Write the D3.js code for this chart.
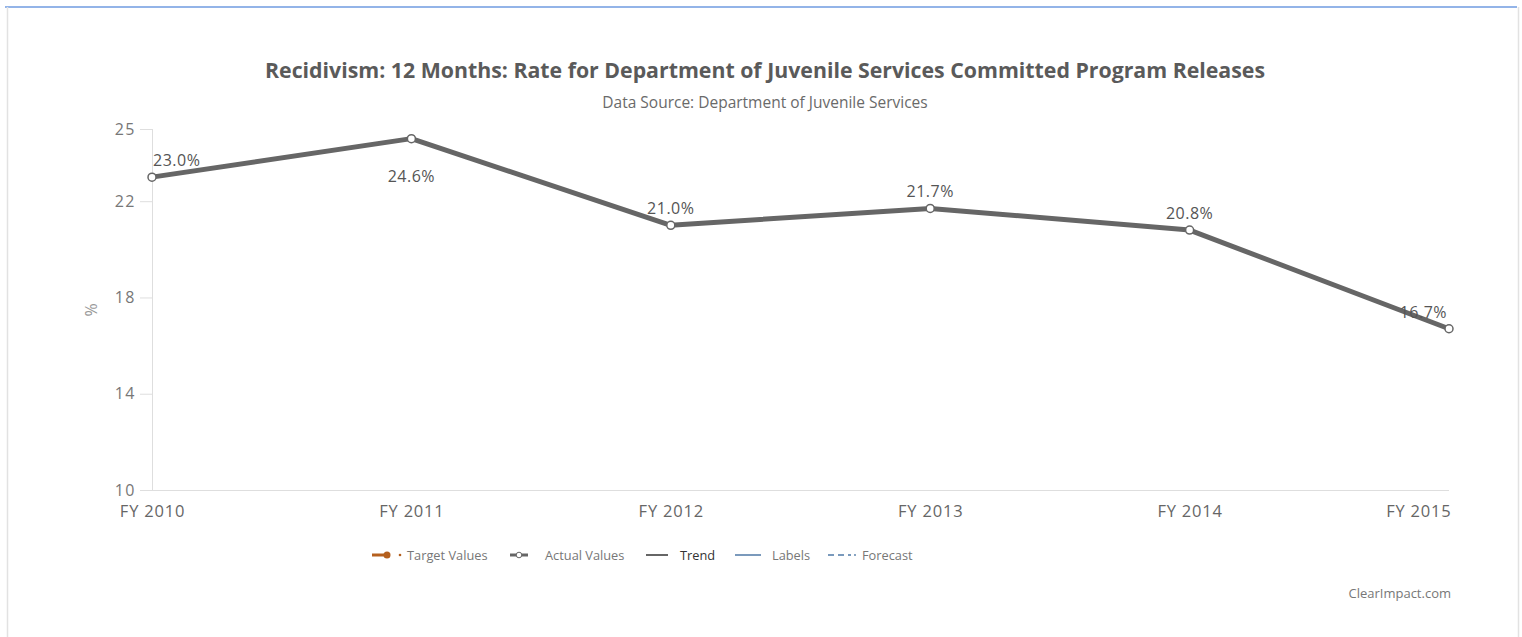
<!DOCTYPE html>
<html>
<head>
<meta charset="utf-8">
<script src="https://d3js.org/d3.v7.min.js"></script>
<style>
  body { margin: 0; background: #fff; }
  svg text { font-family: "Open Sans", "Noto Sans", sans-serif; }
</style>
</head>
<body>
<script>
    // Chart data
    const years = ["FY 2010", "FY 2011", "FY 2012", "FY 2013", "FY 2014", "FY 2015"];
    const actualValues = [23.0, 24.6, 21.0, 21.7, 20.8, 16.7];
    const yTicks = [10, 14, 18, 22, 25];
    const legendItems = ["Target Values", "Actual Values", "Trend", "Labels", "Forecast"];

    const width = 1522, height = 637;
    const svg = d3.select("body").append("svg")
        .attr("width", width)
        .attr("height", height);

    // frame round the widget
    svg.append("line").attr("x1", 5).attr("x2", 1517).attr("y1", 7).attr("y2", 7)
        .attr("stroke", "#6f9be0").attr("stroke-width", 1.5);
    svg.append("line").attr("x1", 7.5).attr("x2", 7.5).attr("y1", 7).attr("y2", height)
        .attr("stroke", "#e2e2e2").attr("stroke-width", 1.5);
    svg.append("line").attr("x1", 1518.5).attr("x2", 1518.5).attr("y1", 7).attr("y2", height)
        .attr("stroke", "#e2e2e2").attr("stroke-width", 1.5);

    // title + subtitle
    svg.append("text")
        .attr("x", 765).attr("y", 78)
        .attr("text-anchor", "middle")
        .style("font-size", "21.3px").style("font-weight", "bold").style("fill", "#5a5a5a")
        .text("Recidivism: 12 Months: Rate for Department of Juvenile Services Committed Program Releases");
    svg.append("text")
        .attr("x", 765).attr("y", 108)
        .attr("text-anchor", "middle")
        .style("font-size", "15.5px").style("fill", "#6a6a6a")
        .text("Data Source: Department of Juvenile Services");

    // scales
    const x = d3.scalePoint().domain(years).range([152, 1449]);
    const y = d3.scaleLinear().domain([10, 25]).range([490, 129]);

    // y axis
    const yAxis = svg.append("g")
        .attr("transform", "translate(152,0)")
        .call(d3.axisLeft(y).tickValues(yTicks).tickSize(12).tickPadding(4));
    yAxis.select(".domain").attr("stroke", "#dedede").attr("d", "M0.5,129V490");
    yAxis.selectAll(".tick line").attr("stroke", "#dedede");
    yAxis.selectAll(".tick text")
        .style("font-size", "16px").style("letter-spacing", "1.5px").style("fill", "#777")
        .style("font-family", "'Open Sans', sans-serif");

    // x axis
    const xAxis = svg.append("g")
        .attr("transform", "translate(0,490)")
        .call(d3.axisBottom(x).tickSize(0).tickPadding(15));
    xAxis.select(".domain").attr("stroke", "#dedede").attr("d", "M152,0.5H1449");
    xAxis.selectAll(".tick text")
        .style("font-size", "16.5px").style("letter-spacing", "0.8px").style("fill", "#666")
        .style("font-family", "'Open Sans', sans-serif");
    // last label is kept inside the plot
    xAxis.selectAll(".tick text")
        .filter(d => d === years[years.length - 1])
        .attr("text-anchor", "end").attr("x", 2);

    // y title
    svg.append("text")
        .attr("transform", "translate(97,310) rotate(-90)")
        .attr("text-anchor", "middle")
        .style("font-size", "16px").style("fill", "#999")
        .text("%");

    // line
    const line = d3.line()
        .x((d, i) => x(years[i]))
        .y(d => y(d));
    svg.append("path")
        .datum(actualValues)
        .attr("d", line)
        .attr("fill", "none")
        .attr("stroke", "#666")
        .attr("stroke-width", 5)
        .attr("stroke-linejoin", "round");

    svg.selectAll("circle.pt")
        .data(actualValues)
        .enter().append("circle")
        .attr("class", "pt")
        .attr("cx", (d, i) => x(years[i]))
        .attr("cy", d => y(d))
        .attr("r", 4)
        .attr("fill", "#fff")
        .attr("stroke", "#666")
        .attr("stroke-width", 1.5);

    // data labels
    svg.selectAll("text.lbl")
        .data(actualValues)
        .enter().append("text")
        .attr("class", "lbl")
        .attr("x", (d, i) => i === 0 ? x(years[i]) + 1 : (i === years.length - 1 ? x(years[i]) - 2 : x(years[i])))
        .attr("y", d => (y(d) - 30 < 129) ? y(d) + 43 : y(d) - 11)
        .attr("text-anchor", (d, i) => i === 0 ? "start" : (i === years.length - 1 ? "end" : "middle"))
        .style("font-size", "16px").style("letter-spacing", "0.5px").style("fill", "#555")
        .text(d => d.toFixed(1) + "%");

    // legend
    const lg = svg.append("g").attr("transform", "translate(0,555)");
    // target values
    lg.append("line").attr("x1", 372).attr("x2", 388).attr("y1", 0).attr("y2", 0)
        .attr("stroke", "#b5601e").attr("stroke-width", 3);
    lg.append("circle").attr("cx", 387).attr("cy", 0).attr("r", 3.5).attr("fill", "#b5601e");
    lg.append("circle").attr("cx", 400).attr("cy", 0).attr("r", 1.3).attr("fill", "#b5601e");
    // actual values
    lg.append("line").attr("x1", 510).attr("x2", 528).attr("y1", 0).attr("y2", 0)
        .attr("stroke", "#666").attr("stroke-width", 3);
    lg.append("circle").attr("cx", 519).attr("cy", 0).attr("r", 2.8).attr("fill", "#fff")
        .attr("stroke", "#666").attr("stroke-width", 1);
    // trend
    lg.append("line").attr("x1", 646).attr("x2", 668).attr("y1", 0).attr("y2", 0)
        .attr("stroke", "#333").attr("stroke-width", 1.5);
    // labels
    lg.append("line").attr("x1", 735).attr("x2", 761).attr("y1", 0).attr("y2", 0)
        .attr("stroke", "#4f79a6").attr("stroke-width", 1.5);
    // forecast
    lg.append("line").attr("x1", 828).attr("x2", 851).attr("y1", 0).attr("y2", 0)
        .attr("stroke", "#4f79a6").attr("stroke-width", 1.5).attr("stroke-dasharray", "6,4");
    lg.append("circle").attr("cx", 855).attr("cy", 0).attr("r", 0.9).attr("fill", "#4f79a6");

    const legendX = [407, 545, 680, 772, 862];
    lg.selectAll("text")
        .data(legendItems)
        .enter().append("text")
        .attr("x", (d, i) => legendX[i])
        .attr("y", 4.5)
        .style("font-size", "12.8px")
        .style("fill", d => d === "Trend" ? "#333" : "#777")
        .text(d => d);

    // credit
    svg.append("text")
        .attr("x", 1451).attr("y", 598)
        .attr("text-anchor", "end")
        .style("font-size", "13px").style("fill", "#777")
        .text("ClearImpact.com");
</script>
</body>
</html>
